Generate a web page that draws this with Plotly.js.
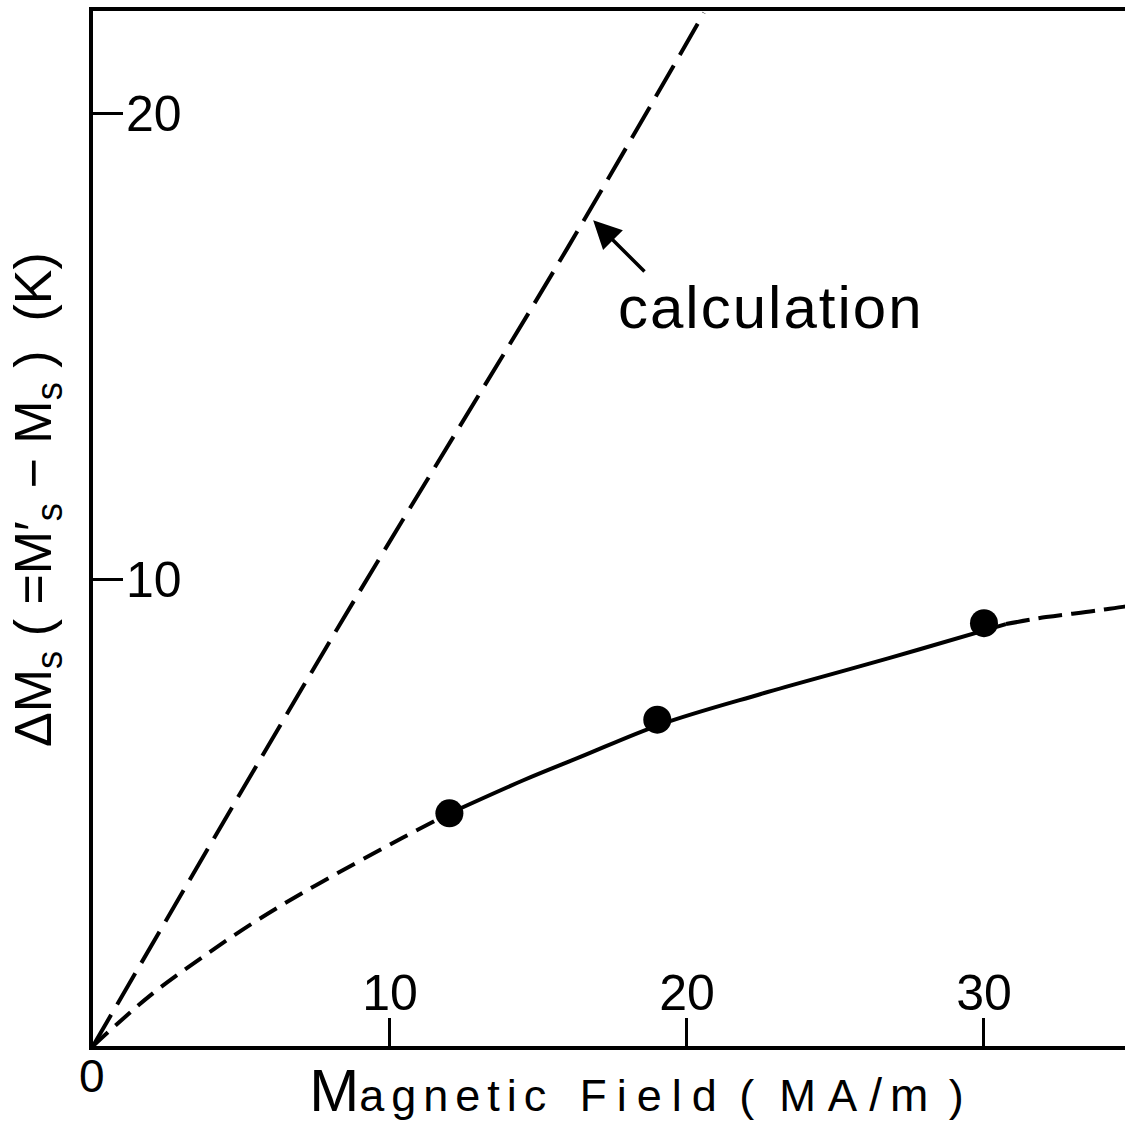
<!DOCTYPE html>
<html>
<head>
<meta charset="utf-8">
<script src="https://cdn.plot.ly/plotly-3.0.1.min.js"></script>
<style>
  html, body { margin: 0; padding: 0; background: #fff; overflow: hidden; width: 1125px; height: 1132px; }
  #chart { position: absolute; left: -40px; top: 0; width: 1220px; height: 1170px; }
</style>
</head>
<body>
<div id="chart"></div>
<script>
// ---- data ----
// measured points (Magnetic field MA/m, ΔMs K)
const measX = [12, 19, 30];
const measY = [4.99, 7.0, 9.07];

// curve through the measurements: dashed (extrapolated) part near the origin
const fitLowX = [0, 1.92, 3.67, 5.56, 7.51, 10.44, 12.0];
const fitLowY = [0, 1.08, 1.90, 2.71, 3.45, 4.47, 4.99];
// solid part between the measured points
const fitMidX = [12.0, 14.49, 16.41, 19.12, 22.49, 25.69, 27.78, 30.74];
const fitMidY = [4.99, 5.70, 6.20, 6.90, 7.55, 8.12, 8.50, 9.05];
// dashed extrapolation beyond the last point
const fitHighX = [30.74, 32.09, 33.69, 34.78, 36.6];
const fitHighY = [9.05, 9.20, 9.33, 9.43, 9.58];

// calculated curve (dashed)
const calcX = [0, 8.18, 15.99, 20.57];
const calcY = [0, 8.90, 17.13, 22.16];

// axis ticks
const xTicks = [10, 20, 30];
const xTickText = ['10', '20', '30'];
const yTicks = [10, 20];
const yTickText = ['10', '20'];

// labels
const xTitle = "<span style='font-size:60px'>M</span><span style='letter-spacing:7px'>agnetic</span><span style='letter-spacing:14px'>&nbsp;</span><span style='font-size:44px;letter-spacing:10px'>F</span><span style='letter-spacing:10px'>ield</span>&nbsp;(&nbsp;&nbsp;<span style='font-size:44px;letter-spacing:12px'>MA</span><span style='font-size:46px;letter-spacing:8px'>/m</span>&nbsp;)";
const yTitle = "&nbsp;&nbsp;&nbsp;&nbsp;ΔM<sub>s</sub>&nbsp;(&nbsp;=M′<sub>s</sub>&nbsp;−&nbsp;M<sub>s</sub>&nbsp;)&nbsp;&nbsp;(K)";
const calcLabel = "<span style='letter-spacing:2px'>calculation</span>";

const FONT = 'Liberation Sans, Arial, Helvetica, sans-serif';
const BLACK = '#000';

const traces = [
  { x: calcX, y: calcY, mode: 'lines', line: { color: BLACK, width: 4, dash: '36px,12px', shape: 'spline' }, hoverinfo: 'skip' },
  { x: fitLowX, y: fitLowY, mode: 'lines', line: { color: BLACK, width: 4, dash: '20px,10px', shape: 'spline' }, hoverinfo: 'skip' },
  { x: fitMidX, y: fitMidY, mode: 'lines', line: { color: BLACK, width: 4, shape: 'spline' }, hoverinfo: 'skip' },
  { x: fitHighX, y: fitHighY, mode: 'lines', line: { color: BLACK, width: 4, dash: '24px,9px', shape: 'spline' }, hoverinfo: 'skip' },
  { x: measX, y: measY, mode: 'markers', marker: { color: BLACK, size: 28, symbol: 'circle' }, hoverinfo: 'skip' }
];

const layout = {
  width: 1220,
  height: 1170,
  margin: { l: 133, r: 0, t: 11, b: 124 },
  paper_bgcolor: '#fff',
  plot_bgcolor: '#fff',
  showlegend: false,
  font: { family: FONT, color: BLACK, size: 50 },
  xaxis: {
    range: [0, 36.6],
    showgrid: false, zeroline: false,
    showline: true, linecolor: BLACK, linewidth: 4, mirror: true,
    ticks: 'inside', ticklen: 28, tickwidth: 3, tickcolor: BLACK,
    tickvals: xTicks, ticktext: xTickText,
    ticklabelposition: 'inside', ticklabelstandoff: 5,
    tickfont: { family: FONT, size: 50, color: BLACK },
    title: { text: xTitle, font: { family: FONT, size: 45, color: BLACK }, standoff: 60 },
    automargin: true
  },
  yaxis: {
    range: [0, 22.2],
    showgrid: false, zeroline: false,
    showline: true, linecolor: BLACK, linewidth: 4, mirror: false,
    ticks: 'inside', ticklen: 30, tickwidth: 3, tickcolor: BLACK,
    tickvals: yTicks, ticktext: yTickText,
    ticklabelposition: 'inside', ticklabelstandoff: 10,
    tickfont: { family: FONT, size: 50, color: BLACK },
    title: { text: yTitle, font: { family: FONT, size: 52, color: BLACK }, standoff: 59 },
    automargin: true
  },
  annotations: [
    { x: 0, y: 0, xref: 'x', yref: 'y', text: '0', showarrow: false,
      xanchor: 'center', yanchor: 'top', xshift: -1, yshift: -2,
      font: { family: FONT, size: 46, color: BLACK } },
    { x: 16.84, y: 17.71, xref: 'x', yref: 'y', ax: 18.62, ay: 16.58, axref: 'x', ayref: 'y',
      text: '', showarrow: true, arrowhead: 2, arrowsize: 1.6, arrowwidth: 3.5, arrowcolor: BLACK },
    { x: 22.83, y: 15.85, xref: 'x', yref: 'y', text: calcLabel, showarrow: false,
      xanchor: 'center', yanchor: 'middle',
      font: { family: FONT, size: 60, color: BLACK } }
  ]
};

Plotly.newPlot('chart', traces, layout, { staticPlot: true, displayModeBar: false });
</script>
</body>
</html>
